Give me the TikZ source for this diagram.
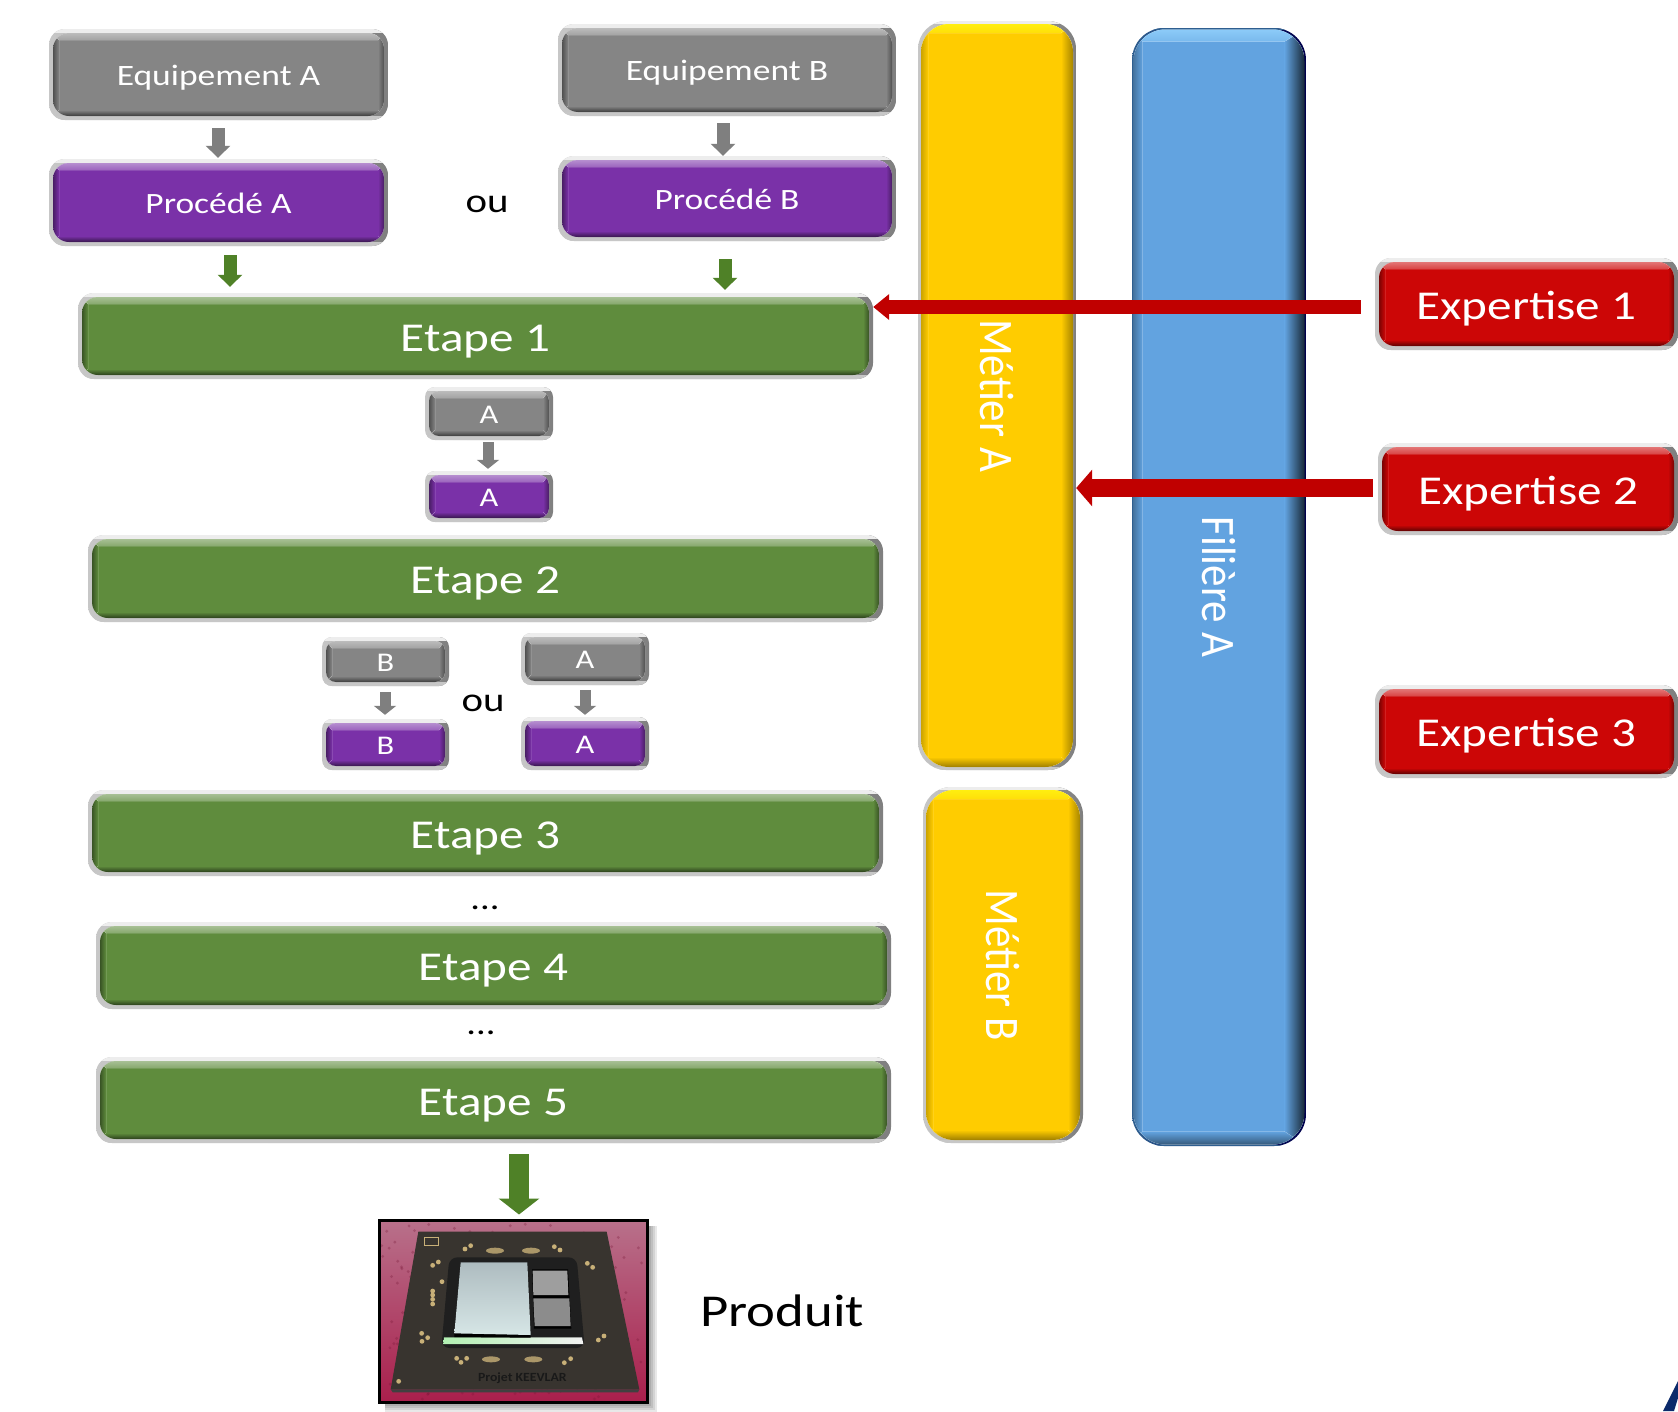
\documentclass[tikz,border=0pt]{standalone}
\usepackage{fontspec}
\usepackage{graphicx}
\usetikzlibrary{arrows.meta}
\newfontfamily\cst[FakeStretch=1.2]{Carlito}
\newfontfamily\cpl{Carlito}
\newcommand\fs[1]{\fontsize{#1}{#1}\selectfont}
\newcommand\tx[2]{\cst\fs{#1}\raisebox{-0.37em}[0pt][0pt]{#2}}
\definecolor{cgray}{HTML}{858585}
\definecolor{cpurple}{HTML}{7A31A8}
\definecolor{cgreen}{HTML}{5F8C3D}
\definecolor{cred}{HTML}{CC0606}
\definecolor{cyellow}{HTML}{FFCC00}
\definecolor{cblue}{HTML}{62A3E0}
\definecolor{agray}{HTML}{7F7F7F}
\definecolor{agreen}{HTML}{4F8127}
\definecolor{ared}{HTML}{C00000}
\definecolor{pinkA}{HTML}{B8708A}
\definecolor{pinkB}{HTML}{A91F4C}
\definecolor{board}{HTML}{38342F}
\definecolor{gold}{HTML}{C8B078}
\definecolor{navy}{HTML}{0B2A6B}
\definecolor{hiyellow}{HTML}{FFEE10}
\definecolor{hiblue}{HTML}{8CCBF8}
\definecolor{edgeblue}{HTML}{2F5F90}
\definecolor{dieA}{HTML}{AEBCC0}
\definecolor{dieB}{HTML}{D6E6E6}
\tikzset{
  x=1pt,y=-1pt,
  bevelpic/.style={
    path picture={
      \coordinate (NW) at (path picture bounding box.north west);
      \coordinate (SE) at (path picture bounding box.south east);
      \coordinate (NE) at (NW -| SE);
      \coordinate (SW) at (SE -| NW);
      \fill[sharp corners,left color=\ringl,right color=\ringr] (NW) rectangle (SE);
      \fill[sharp corners,\ringt] (NW) rectangle ([shift={(0,\ringw)}]NE);
      \fill[sharp corners,\ringb] (SW) rectangle ([shift={(0,-\ringw)}]SE);
      \coordinate (A) at ([shift={(\ringw,\ringw)}]NW);
      \coordinate (B) at ([shift={(-\ringw,-\ringw)}]SE);
      \coordinate (C) at (A -| B);
      \coordinate (D) at (B -| A);
      \begin{scope}
      \clip[rounded corners=\innerr pt] (A) rectangle (B);
      \fill[\basecol,sharp corners] (A) rectangle (B);
      \fill[sharp corners,left color=\basecol!\leftdark!black,right color=\basecol]
        (A) -- ([shift={(\sidew,\topw)}]A) -- ([shift={(\sidew,-\botw)}]D) -- (D) -- cycle;
      \fill[sharp corners,left color=\basecol,right color=\basecol!\rightdark!black]
        (C) -- ([shift={(-\rsidew,\topw)}]C) -- ([shift={(-\rsidew,-\botw)}]B) -- (B) -- cycle;
      \fill[sharp corners,top color=\topc,bottom color=\topc!55!\basecol]
        (A) -- (C) -- ([shift={(-\rsidew,\topw)}]C) -- ([shift={(\sidew,\topw)}]A) -- cycle;
      \fill[sharp corners,top color=\basecol,bottom color=\basecol!\botdark!black]
        (D) -- (B) -- ([shift={(-\rsidew,-\botw)}]B) -- ([shift={(\sidew,-\botw)}]D) -- cycle;
      \end{scope}
    }
  },
  gbig/.style={line width=13pt,-{Triangle[width=24pt,length=12pt]}},
  gsmall/.style={line width=11pt,-{Triangle[width=22pt,length=9pt]}},
  gbigg/.style={line width=20pt,-{Triangle[width=40pt,length=16pt]}},
  lbl/.style={inner sep=0pt,text=black},
  pad/.style={fill=gold},
}
% name x0 y0 x1 y1 colour radius text
\newcommand\bevel[8]{%
  \pgfmathsetmacro\cx{(#2+#4)/2}\pgfmathsetmacro\cy{(#3+#5)/2}%
  \pgfmathsetmacro\wid{#4-#2}\pgfmathsetmacro\hei{#5-#3}%
  \def\basecol{#6}\def\innerr{#7}\def\topc{#6!55!white}%
  \node[bevelpic,rounded corners=#7pt,fill=white,inner sep=0pt,text=white,
        minimum width=\wid pt,minimum height=\hei pt] (#1) at (\cx,\cy) {#8};%
}
\newcommand\barbox[9]{%
  \pgfmathsetmacro\cx{(#2+#4)/2}\pgfmathsetmacro\cy{(#3+#5)/2}%
  \pgfmathsetmacro\wid{#4-#2}\pgfmathsetmacro\hei{#5-#3}%
  \def\basecol{#6}\def\innerr{#7}\def\topc{#8}%
  \node[bevelpic,rounded corners=#7pt,fill=white,inner sep=0pt,text=white,
        minimum width=\wid pt,minimum height=\hei pt] (#1) at (\cx,\cy) {#9};%
}
\def\sidew{6}\def\rsidew{6}\def\topw{7}\def\botw{6}\def\leftdark{60}\def\rightdark{60}\def\botdark{45}
\def\ringw{4}\def\ringl{black!22}\def\ringr{black!50}\def\ringt{black!7}\def\ringb{black!22}
\newcommand\vt[1]{\rotatebox{-90}{\scalebox{1}[1.12]{\cpl\fs{43}#1}}}
\begin{document}
\begin{tikzpicture}
\useasboundingbox (0,0) rectangle (1678,1411);
\fill[white] (0,0) rectangle (1678,1411);
% --- bars
{\def\sidew{7}\def\rsidew{12}\def\topw{9}\def\botw{10}\def\leftdark{80}\def\rightdark{65}\def\botdark{62}\def\ringw{3}
\barbox{ma}{918}{21}{1076}{770}{cyellow}{28}{hiyellow}{\vt{Métier A}}
\barbox{mb}{923}{787}{1083}{1143}{cyellow}{28}{hiyellow}{\vt{Métier B}}
\def\sidew{9}\def\rsidew{20}\def\topw{12}\def\botw{13}\def\leftdark{72}\def\rightdark{25}\def\botdark{55}
\def\ringw{1.5}\def\ringl{edgeblue}\def\ringr{black!70!blue}\def\ringt{edgeblue}\def\ringb{edgeblue}
\barbox{fa}{1132}{28}{1306}{1146}{cblue}{32}{hiblue}{\vt{Filière A}}
}
% --- main boxes
\bevel{eqa}{49}{29}{388}{120}{cgray}{16}{\tx{29.6}{Equipement A}}
\bevel{pra}{49}{159}{388}{246}{cpurple}{16}{\tx{29.5}{Procédé A}}
\bevel{eqb}{558}{24}{896}{116}{cgray}{16}{\tx{29.6}{Equipement B}}
\bevel{prb}{558}{156}{896}{241}{cpurple}{16}{\tx{29.5}{Procédé B}}
\bevel{e1}{78}{293}{873}{379}{cgreen}{16}{\tx{41}{Etape 1}}
\bevel{e2}{88}{535}{883}{622}{cgreen}{16}{\tx{41}{Etape 2}}
\bevel{e3}{88}{790}{883}{876}{cgreen}{16}{\tx{41}{Etape 3}}
\bevel{e4}{96}{922}{891}{1009}{cgreen}{16}{\tx{41}{Etape 4}}
\bevel{e5}{96}{1057}{891}{1143}{cgreen}{16}{\tx{41}{Etape 5}}
\bevel{ga1}{425}{387}{553}{440}{cgray}{10}{\tx{27}{A}}
\bevel{pa1}{425}{471}{553}{522}{cpurple}{10}{\tx{27}{A}}
\bevel{gb2}{322}{637}{449}{686}{cgray}{10}{\tx{27}{B}}
\bevel{pb2}{322}{719}{449}{770}{cpurple}{10}{\tx{27}{B}}
\bevel{ga2}{521}{633}{649}{685}{cgray}{10}{\tx{27}{A}}
\bevel{pa2}{521}{717}{649}{770}{cpurple}{10}{\tx{27}{A}}
\bevel{ex1}{1375}{258}{1678}{350}{cred}{16}{\tx{41}{Expertise 1}}
\bevel{ex2}{1378}{443}{1678}{535}{cred}{16}{\tx{41}{Expertise 2}}
\bevel{ex3}{1375}{685}{1678}{778}{cred}{16}{\tx{41}{Expertise 3}}
% --- free labels
\node[lbl] (ou1) at (487,204) {\cst\fs{34}ou};
\node[lbl] (ou2) at (483,703) {\cst\fs{34}ou};
\node[lbl] (d1) at (485,908) {\cst\fs{32}...};
\node[lbl] (d2) at (481,1033) {\cst\fs{32}...};
\node[lbl,anchor=west] (prod) at (700,1311) {\cst\fs{45.6}Produit};
% --- product photo
\foreach \s in {2,4,6,8,10}{
  \fill[black,opacity=.09] (385,1226) rectangle (647+\s,1402+\s);}
\begin{scope}[shift={(360,1140)},x=0.33333pt,y=-0.33333pt]
  \fill[top color=pinkA,bottom color=pinkB] (60,243) rectangle (860,785);
  \pgfmathsetseed{7}
  \foreach \i in {1,...,220}{
    \pgfmathsetmacro\xx{65+790*rnd}\pgfmathsetmacro\yy{248+530*rnd}
    \fill[pinkB!70!black,opacity=.3] (\xx,\yy) circle[radius=1.6pt];
  }
  \fill[black!75] (92,748) -- (838,748) -- (834,757) -- (98,757) -- cycle;
  \fill[board] (175,275) -- (740,275) -- (838,748) -- (92,748) -- cycle;
  \fill[black!88,rounded corners=8pt]
    (268,352) -- (650,352) -- (674,624) -- (244,624) -- cycle;
  \fill[left color=black!20!green!30!white,right color=black!5] (252,592) -- (666,592) -- (670,612) -- (250,612) -- cycle;
  \fill[black] (283,580) -- (512,583) -- (512,593) -- (283,591) -- cycle;
  \fill[top color=dieA,bottom color=dieB] (302,367) -- (502,367) -- (512,585) -- (283,580) -- cycle;
  \fill[black] (516,388) -- (624,388) -- (634,566) -- (522,566) -- cycle;
  \fill[black!38] (518,392) -- (622,392) -- (625,465) -- (520,465) -- cycle;
  \fill[black!45] (520,475) -- (628,475) -- (632,558) -- (524,558) -- cycle;
  % gold pads
  \foreach \a/\b in {315/327,332/317,583/320,600/330,218/376,235/366,682/370,698/382,
    218/453,218/465,218/478,218/492,185/580,203/593,186/604,715/600,732/588,
    290/655,303/667,320/655,613/668,632/656,246/425,116/724}{
    \fill[pad] (\a,\b) circle[radius=2.4pt];}
  \foreach \a/\b in {405/332,513/332,393/658,520/658}{
    \fill[pad,opacity=.8] (\a,\b) ellipse[x radius=9pt,y radius=3pt];}
  \draw[gold,line width=1pt] (193,292) rectangle (235,315);
  \node[inner sep=0pt,text=black!90] (kv) at (487,713) {\cpl\bfseries\fs{12.5}\scalebox{1.1}[1]{Projet KEEVLAR}};
\end{scope}
\node[draw=black,line width=3pt,inner sep=0pt,minimum width=268pt,minimum height=182pt] (chip) at (513,1311) {};
% --- arrows
\coordinate (xga) at (218,0);
\coordinate (xgb) at (723,0);
\coordinate (xpa) at (230,0);
\coordinate (xpb) at (725,0);
\coordinate (xa1) at (488,0);
\coordinate (xb2) at (385,0);
\coordinate (xa2) at (585,0);
\coordinate (xch) at (519,0);
\coordinate (yr1) at (0,307);
\coordinate (yr2) at (0,488);
\draw[gbig,agray,shorten <=8pt,shorten >=1pt] (eqa.south -| xga) -- (pra.north -| xga);
\draw[gbig,agray,shorten <=7pt,shorten >=0pt] (eqb.south -| xgb) -- (prb.north -| xgb);
\draw[gbig,agreen,shorten <=9pt,shorten >=6pt] (pra.south -| xpa) -- (e1.north -| xpa);
\draw[gbig,agreen,shorten <=18pt,shorten >=3pt] (prb.south -| xpb) -- (e1.north -| xpb);
\draw[gsmall,agray,shorten <=2pt,shorten >=2pt] (ga1.south -| xa1) -- (pa1.north -| xa1);
\draw[gsmall,agray,shorten <=6pt,shorten >=4pt] (gb2.south -| xb2) -- (pb2.north -| xb2);
\draw[gsmall,agray,shorten <=5pt,shorten >=2pt] (ga2.south -| xa2) -- (pa2.north -| xa2);
\draw[gbigg,agreen,shorten <=11pt,shorten >=4pt] (e5.south -| xch) -- (chip.north -| xch);
\draw[line width=14pt,ared,-{Triangle[width=25pt,length=16pt]},shorten <=14pt] (ex1.west |- yr1) -- (e1.east |- yr1);
\draw[line width=18pt,ared,-{Triangle[width=36pt,length=16pt]},shorten <=5pt] (ex2.west |- yr2) -- (ma.east |- yr2);
% --- corner mark
\fill[navy] (1663,1411) -- (1674,1411) -- (1678,1398) -- (1678,1381) -- cycle;
\end{tikzpicture}
\end{document}
